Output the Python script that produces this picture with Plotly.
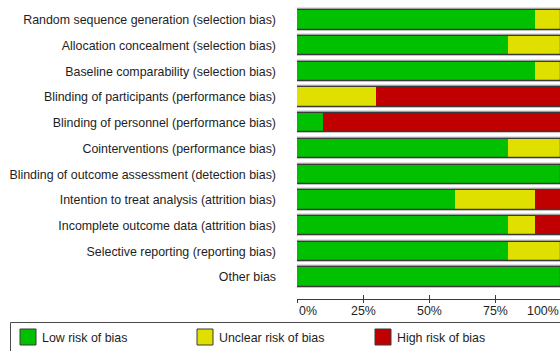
import plotly.graph_objects as go

# Risk-of-bias domains, top to bottom
domains = [
    "Random sequence generation (selection bias)",
    "Allocation concealment (selection bias)",
    "Baseline comparability (selection bias)",
    "Blinding of participants (performance bias)",
    "Blinding of personnel (performance bias)",
    "Cointerventions (performance bias)",
    "Blinding of outcome assessment (detection bias)",
    "Intention to treat analysis (attrition bias)",
    "Incomplete outcome data (attrition bias)",
    "Selective reporting (reporting bias)",
    "Other bias",
]

# Percentage of studies per judgement
low_risk = [90, 80, 90, 0, 10, 80, 100, 60, 80, 80, 100]
unclear_risk = [10, 20, 10, 30, 0, 20, 0, 30, 10, 20, 0]
high_risk = [0, 0, 0, 70, 90, 0, 0, 10, 10, 0, 0]

judgements = ["Low risk of bias", "Unclear risk of bias", "High risk of bias"]
colors = ["#00C000", "#E0E000", "#C00000"]

tick_values = [0, 25, 50, 75, 100]
tick_labels = ["0%", "25%", "50%", "75%", "100%"]

FONT = "Liberation Sans, Arial, sans-serif"
TEXT = "#1e1e1e"
FS = 12.4

W, H = 560, 351
PLOT_L, PLOT_R, PLOT_T, PLOT_B = 297, 560, 7, 299
X_MAX = 99.6  # axis range end; the 100% edge sits just past the page


def px_x(px):
    return (px - PLOT_L) / (PLOT_R - PLOT_L)


def px_y(py):
    return (PLOT_B - py) / (PLOT_B - PLOT_T)


def val_to_paper(v):
    return v / X_MAX


ypos = list(range(len(domains)))
bar_w = 0.75

fig = go.Figure()

# soft grey halo behind each bar
totals = [a + b + c for a, b, c in zip(low_risk, unclear_risk, high_risk)]
fig.add_trace(go.Bar(
    y=ypos, x=totals, base=[0] * len(ypos), orientation="h", width=bar_w,
    marker=dict(color="rgba(0,0,0,0)", line=dict(color="#c4c4c4", width=3.5)),
    showlegend=False, hoverinfo="skip",
))

series = [low_risk, unclear_risk, high_risk]
base = [0] * len(ypos)
for name, vals, col in zip(judgements, series, colors):
    fig.add_trace(go.Bar(
        y=ypos, x=vals, base=list(base), orientation="h", width=bar_w,
        name=name, marker=dict(color=col, line=dict(width=0)),
        showlegend=False,
    ))
    base = [b + v for b, v in zip(base, vals)]

# dark outline around each full bar
fig.add_trace(go.Bar(
    y=ypos, x=totals, base=[0] * len(ypos), orientation="h", width=bar_w,
    marker=dict(color="rgba(0,0,0,0)", line=dict(color="#3a3a3a", width=1.2)),
    showlegend=False, hoverinfo="skip",
))

# tick labels under the axis: first one left-aligned, last one right-aligned
annotations = []
for i, (tv, tl) in enumerate(zip(tick_values, tick_labels)):
    anchor = "left" if i == 0 else ("right" if i == len(tick_values) - 1 else "center")
    annotations.append(dict(
        x=val_to_paper(tv), y=px_y(311), xref="paper", yref="paper", text=tl,
        showarrow=False, xanchor=anchor, yanchor="middle",
        font=dict(family=FONT, size=FS, color=TEXT),
    ))

shapes = []
# legend frame
shapes.append(dict(
    type="rect", xref="paper", yref="paper",
    x0=px_x(10.5), x1=px_x(600), y0=px_y(322.5), y1=px_y(380),
    line=dict(color="#4a4a4a", width=1), fillcolor="white", layer="above",
))
legend_square_x = [20, 197, 375]
for sx, name, col in zip(legend_square_x, judgements, colors):
    shapes.append(dict(
        type="rect", xref="paper", yref="paper",
        x0=px_x(sx), x1=px_x(sx + 16), y0=px_y(329), y1=px_y(345),
        line=dict(color="#3a3a3a", width=1), fillcolor=col, layer="above",
    ))
    annotations.append(dict(
        x=px_x(sx + 20), y=px_y(337.5), xref="paper", yref="paper", text=name,
        showarrow=False, xanchor="left", yanchor="middle",
        font=dict(family=FONT, size=FS, color=TEXT),
    ))

fig.update_layout(
    width=W, height=H,
    margin=dict(l=PLOT_L, r=W - PLOT_R, t=PLOT_T, b=H - PLOT_B, pad=0),
    paper_bgcolor="white", plot_bgcolor="white",
    barmode="overlay", bargap=0,
    showlegend=False,
    annotations=annotations, shapes=shapes,
    xaxis=dict(
        range=[0, X_MAX], tickvals=tick_values, showticklabels=False,
        ticks="outside", ticklen=3, tickwidth=1, tickcolor="#3a3a3a",
        showline=True, linecolor="#3a3a3a", linewidth=1,
        showgrid=False, zeroline=False, fixedrange=True,
    ),
    xaxis2=dict(
        range=[0, X_MAX], tickvals=tick_values, showticklabels=False,
        overlaying="x", side="bottom", anchor="y",
        ticks="inside", ticklen=4, tickwidth=1, tickcolor="#3a3a3a",
        showline=False, showgrid=False, zeroline=False,
    ),
    yaxis=dict(
        range=[10.85, -0.5], tickvals=ypos, ticktext=domains,
        showline=False, showgrid=False, zeroline=False, ticks="",
        ticklabelstandoff=20,
        tickfont=dict(family=FONT, size=FS, color=TEXT),
    ),
)

# invisible trace so the overlaid axis is drawn
fig.add_trace(go.Scatter(x=[0], y=[0], xaxis="x2", mode="markers",
                         marker=dict(opacity=0), showlegend=False, hoverinfo="skip"))

fig.write_html("out.html")
